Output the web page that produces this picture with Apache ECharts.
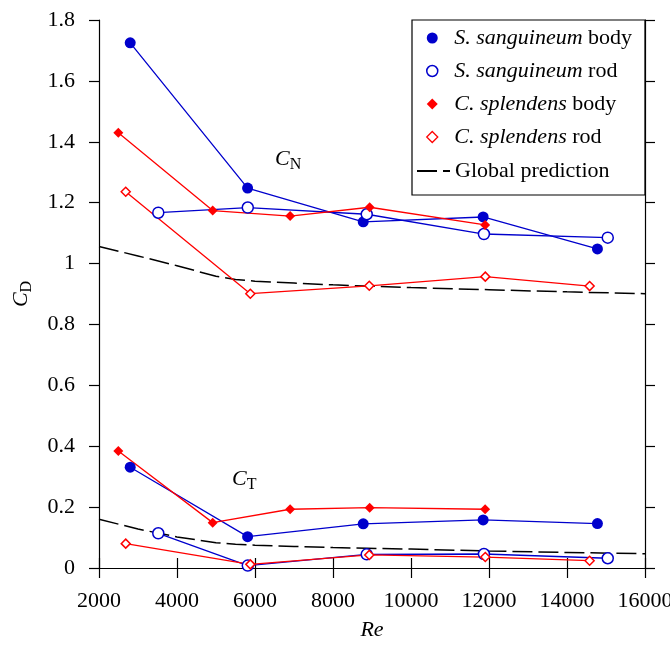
<!DOCTYPE html>
<html>
<head>
<meta charset="utf-8">
<script src="https://cdn.jsdelivr.net/npm/echarts@6/dist/echarts.min.js"></script>
<style>html,body{margin:0;padding:0;background:#fff}#c{width:670px;height:651px}</style>
</head>
<body>
<div id="c"></div>
<script>
// ---- data ----
const xTicks = [2000, 16000, 2000];           // min, max, interval
const yTicks = [0, 1.8, 0.2];

const reSangBody = [2800, 5810, 8775, 11850, 14780];
const cnSangBody = [1.725, 1.248, 1.137, 1.153, 1.048];
const ctSangBody = [0.331, 0.103, 0.145, 0.158, 0.146];

const reSangRod = [3520, 5815, 8865, 11870, 15045];
const cnSangRod = [1.167, 1.184, 1.162, 1.097, 1.085];
const ctSangRod = [0.114, 0.008, 0.045, 0.046, 0.032];

const reSplBody = [2495, 4915, 6900, 8940, 11900];
const cnSplBody = [1.430, 1.174, 1.156, 1.185, 1.127];
const ctSplBody = [0.384, 0.149, 0.193, 0.198, 0.193];

const reSplRod = [2685, 5880, 8930, 11905, 14580];
const cnSplRod = [1.236, 0.901, 0.927, 0.957, 0.926];
const ctSplRod = [0.080, 0.012, 0.043, 0.036, 0.024];

const reGlobal = [2000, 3000, 4000, 5000, 5500, 6000, 7000, 8000, 10000, 12000, 14000, 16000];
const cnGlobal = [1.056, 1.025, 0.993, 0.958, 0.948, 0.942, 0.936, 0.930, 0.921, 0.914, 0.907, 0.901];
const ctGlobal = [0.160, 0.128, 0.102, 0.083, 0.078, 0.075, 0.071, 0.067, 0.062, 0.056, 0.051, 0.047];

const names = ['S. sanguineum body', 'S. sanguineum rod', 'C. splendens body', 'C. splendens rod', 'Global prediction'];

// ---- styling ----
const FONT = 'Liberation Serif';
const BLUE = '#0000cc';
const RED = '#ff0000';
const DIAMOND = 'path://M0,-1L1,0L0,1L-1,0Z';

function pairs(xs, ys) { return xs.map((x, i) => [x, ys[i]]); }

function markerSeries(name, xs, ys, color, symbol, size, filled) {
  return {
    name: name, type: 'line', data: pairs(xs, ys),
    symbol: symbol, symbolSize: size, showSymbol: true,
    lineStyle: { color: color, width: 1.3 },
    itemStyle: filled ? { color: color } : { color: '#fff', borderColor: color, borderWidth: 1.5 },
    z: 3, animation: false
  };
}
function globalSeries(ys) {
  return {
    name: names[4], type: 'line', data: pairs(reGlobal, ys), symbol: 'none',
    lineStyle: { color: '#000', width: 1.5, type: [20, 6] }, itemStyle: { color: '#000' },
    z: 2, animation: false
  };
}

const series = [
  globalSeries(cnGlobal), globalSeries(ctGlobal),
  markerSeries(names[0], reSangBody, cnSangBody, BLUE, 'circle', 11, true),
  markerSeries(names[0], reSangBody, ctSangBody, BLUE, 'circle', 11, true),
  markerSeries(names[1], reSangRod, cnSangRod, BLUE, 'circle', 11, false),
  markerSeries(names[1], reSangRod, ctSangRod, BLUE, 'circle', 11, false),
  markerSeries(names[2], reSplBody, cnSplBody, RED, 'diamond', 10, true),
  markerSeries(names[2], reSplBody, ctSplBody, RED, 'diamond', 10, true),
  markerSeries(names[3], reSplRod, cnSplRod, RED, 'diamond', 9, false),
  markerSeries(names[3], reSplRod, ctSplRod, RED, 'diamond', 9, false)
];

const axisCommon = {
  axisLine: { show: true, lineStyle: { color: '#000', width: 1.2 } },
  axisTick: { show: true, length: 10, lineStyle: { color: '#000', width: 1.2 } },
  splitLine: { show: false }
};

function legendFmt(name) {
  const parts = name.split(' ');
  if (parts.length === 3) return '{i|' + parts[0] + ' ' + parts[1] + '} ' + parts[2];
  return name;
}

const option = {
  animation: false,
  textStyle: { fontFamily: FONT },
  grid: { left: 99, right: 25, top: 20, bottom: 83, outerBoundsMode: 'none', containLabel: false },
  xAxis: [
    Object.assign({}, axisCommon, {
      type: 'value', min: xTicks[0], max: xTicks[1], interval: xTicks[2], position: 'bottom',
      axisLabel: { color: '#000', fontSize: 22, fontFamily: FONT, margin: 22, formatter: v => String(v) },
      name: 'Re', nameLocation: 'middle', nameGap: 51,
      nameTextStyle: { color: '#000', fontSize: 22, fontStyle: 'italic', fontFamily: FONT }
    }),
    Object.assign({}, axisCommon, {
      type: 'value', min: xTicks[0], max: xTicks[1], interval: xTicks[2], position: 'top',
      axisLabel: { show: false }
    })
  ],
  yAxis: [
    Object.assign({}, axisCommon, {
      type: 'value', min: yTicks[0], max: yTicks[1], interval: yTicks[2], position: 'left',
      axisLabel: { color: '#000', fontSize: 22, fontFamily: FONT, margin: 24 },
      name: '{c|C}{d|D}', nameLocation: 'middle', nameGap: 64, nameRotate: 90,
      nameTextStyle: {
        color: '#000', fontFamily: FONT,
        rich: {
          c: { fontSize: 22, fontStyle: 'italic', fontFamily: FONT, color: '#000', verticalAlign: 'middle' },
          d: { fontSize: 16, fontFamily: FONT, color: '#000', verticalAlign: 'bottom', padding: [12, 0, 0, 0] }
        }
      }
    }),
    Object.assign({}, axisCommon, {
      type: 'value', min: yTicks[0], max: yTicks[1], interval: yTicks[2], position: 'right',
      axisLabel: { show: false }
    })
  ],
  legend: [
    {
      data: [
        { name: names[0], icon: 'circle', itemStyle: { color: BLUE, borderWidth: 0 } },
        { name: names[1], icon: 'circle', itemStyle: { color: '#fff', borderColor: BLUE, borderWidth: 1.5 } },
        { name: names[2], icon: DIAMOND, itemStyle: { color: RED, borderWidth: 0 } },
        { name: names[3], icon: DIAMOND, itemStyle: { color: '#fff', borderColor: RED, borderWidth: 1.3 } }
      ],
      orient: 'vertical', left: 421, top: 22, itemWidth: 34, itemHeight: 11, itemGap: 11,
      selectedMode: false, formatter: legendFmt,
      textStyle: { color: '#000', fontSize: 22, fontFamily: FONT,
        rich: { i: { fontStyle: 'italic', fontSize: 22, fontFamily: FONT, color: '#000' } } }
    },
    {
      data: [{ name: names[4], itemStyle: { color: 'rgba(0,0,0,0)', borderWidth: 0, opacity: 0 } }],
      orient: 'vertical', left: 411, top: 155, itemWidth: 33, itemHeight: 11,
      selectedMode: false,
      textStyle: { color: '#000', fontSize: 22, fontFamily: FONT }
    }
  ],
  graphic: [
    { type: 'rect', z: 1, shape: { x: 412, y: 20, width: 233, height: 175 },
      style: { fill: 'transparent', stroke: '#000', lineWidth: 1.2 } },
    { type: 'text', left: 275, top: 148, z: 5,
      style: { text: '{c|C}{s|N}', fill: '#000',
        rich: { c: { fontSize: 22, fontStyle: 'italic', fontFamily: FONT, verticalAlign: 'middle' },
                s: { fontSize: 16, fontFamily: FONT, verticalAlign: 'bottom', padding: [12, 0, 0, 0] } } } },
    { type: 'text', left: 232, top: 468, z: 5,
      style: { text: '{c|C}{s|T}', fill: '#000',
        rich: { c: { fontSize: 22, fontStyle: 'italic', fontFamily: FONT, verticalAlign: 'middle' },
                s: { fontSize: 16, fontFamily: FONT, verticalAlign: 'bottom', padding: [12, 0, 0, 0] } } } }
  ],
  series: series
};

const chart = echarts.init(document.getElementById('c'), null, { renderer: 'canvas' });
chart.setOption(option);
</script>
</body>
</html>
